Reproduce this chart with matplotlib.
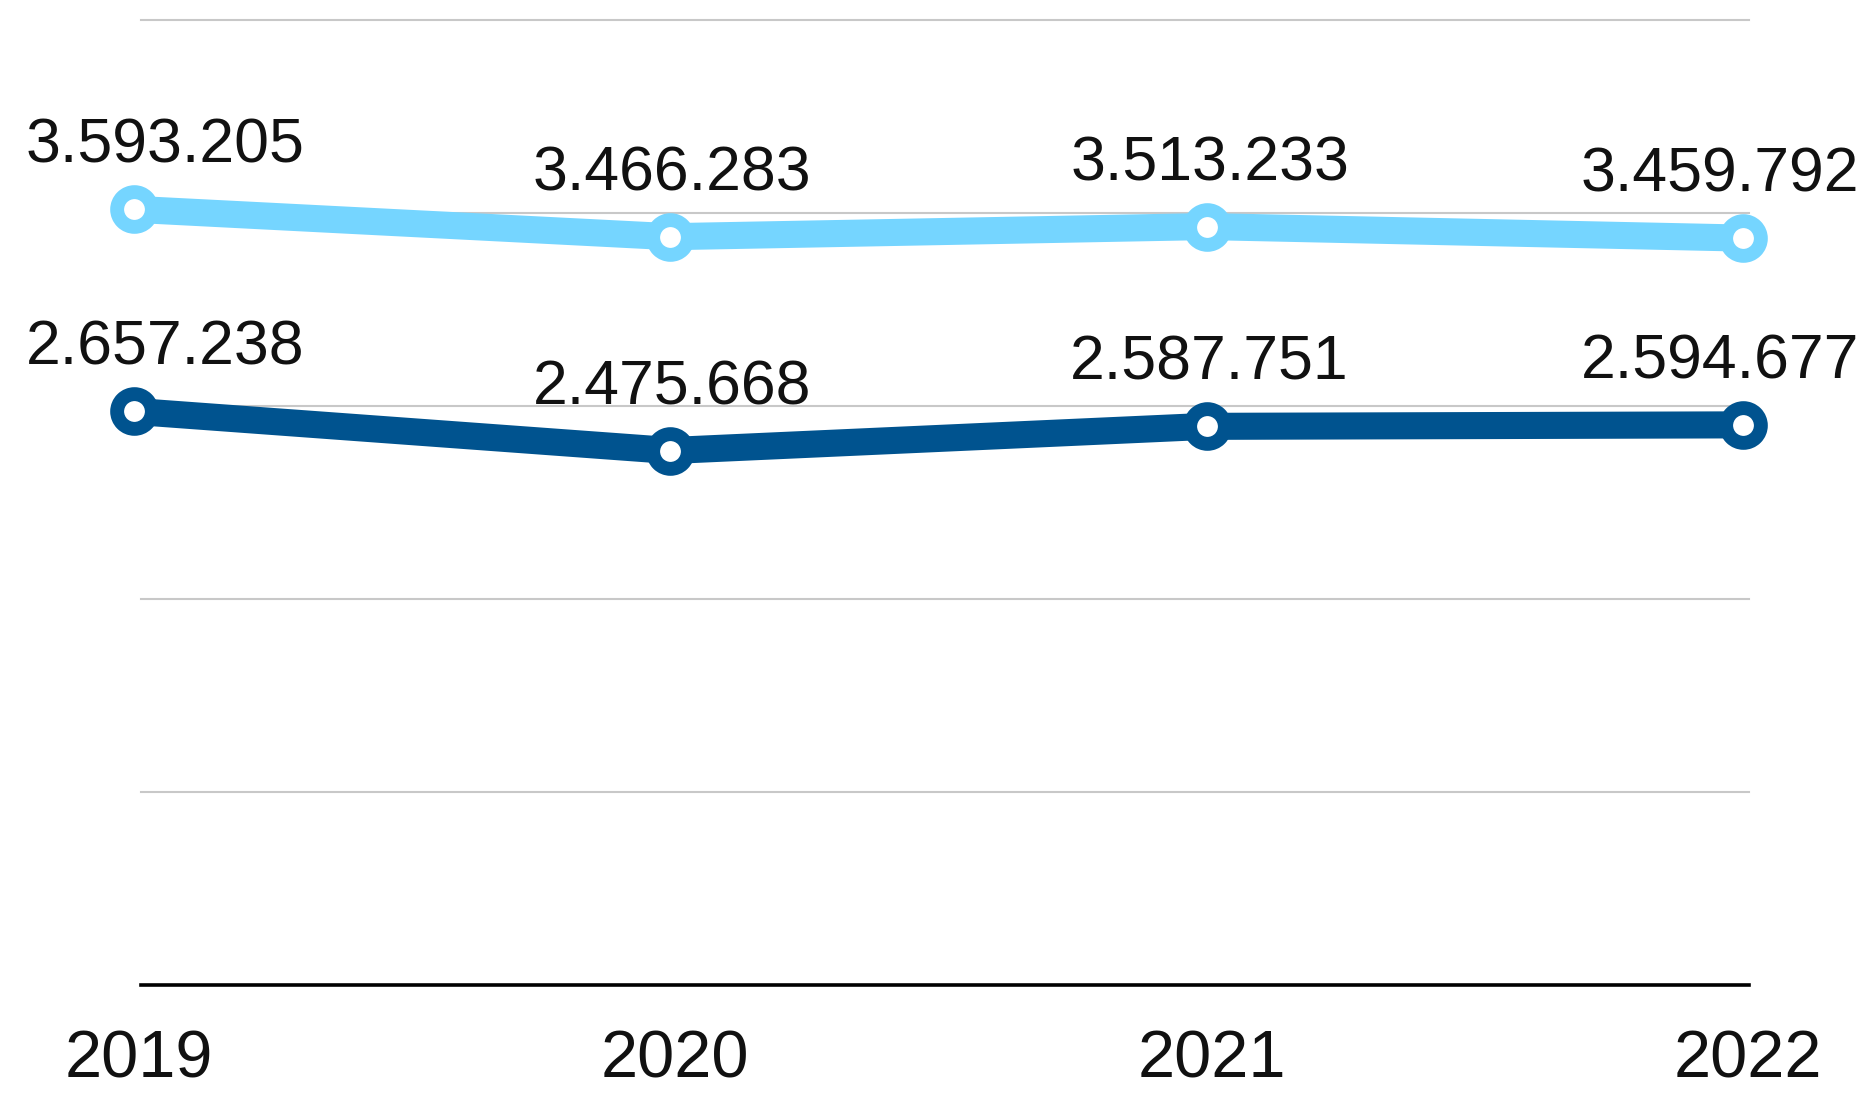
import numpy as np
import matplotlib
matplotlib.use("Agg")
import matplotlib.pyplot as plt

# data
years = ["2019", "2020", "2021", "2022"]
upper = [3593205, 3466283, 3513233, 3459792]
lower = [2657238, 2475668, 2587751, 2594677]
y_max = 4.47e6

LIGHT = "#75D5FF"
DARK = "#00538F"

def fmt(v):
    # dot as thousands separator
    return f"{v:,}".replace(",", ".")

plt.rcParams["font.family"] = ["Liberation Sans", "DejaVu Sans"]

W, H = 1871, 1093
fig = plt.figure(figsize=(W / 100, H / 100), dpi=100)
ax = fig.add_axes([141 / W, (H - 985) / H, (1749 - 141) / W, (985 - 20) / H])

x = np.arange(len(years))

# label placement: first/last labels pushed inside the figure
ha = ["left", "center", "center", "right"]
dx = [-108, 2, 3, 116]

for vals, col in [(upper, LIGHT), (lower, DARK)]:
    ax.plot(x, vals, color=col, lw=19.5, solid_joinstyle="round",
            solid_capstyle="round", marker="o", ms=25, mew=10,
            mfc="white", mec=col, zorder=3, clip_on=False)
    for i, v in enumerate(vals):
        ax.annotate(fmt(v), (x[i], v), xytext=(dx[i], 46.5),
                    textcoords="offset pixels", ha=ha[i], va="baseline",
                    fontsize=45, color="#111111", zorder=4,
                    annotation_clip=False)

# year labels under the axis (points sit slightly outside the axes box)
for i, yr in enumerate(years):
    ax.annotate(yr, (x[i], 0), xycoords=("data", "axes fraction"),
                xytext=(5, -93), textcoords="offset pixels",
                ha="center", va="baseline", fontsize=48, color="#111111",
                annotation_clip=False)

ax.set_yticks(np.linspace(0, y_max, 6))
ax.yaxis.grid(True, color="#C8C8C8", lw=1.5)
for gl in ax.get_ygridlines():
    gl.set_clip_on(False)
ax.set_axisbelow(True)
ax.tick_params(axis="y", left=False, labelleft=False)
ax.set_xticks([])

unit = (1743 - 134) / 3
ax.set_xlim(7 / unit, 3 + 6 / unit)
ax.set_ylim(0, y_max)

for s in ["top", "left", "right"]:
    ax.spines[s].set_visible(False)
ax.spines["bottom"].set_color("black")
ax.spines["bottom"].set_linewidth(2.6)

fig.savefig("out.png", dpi=100)
